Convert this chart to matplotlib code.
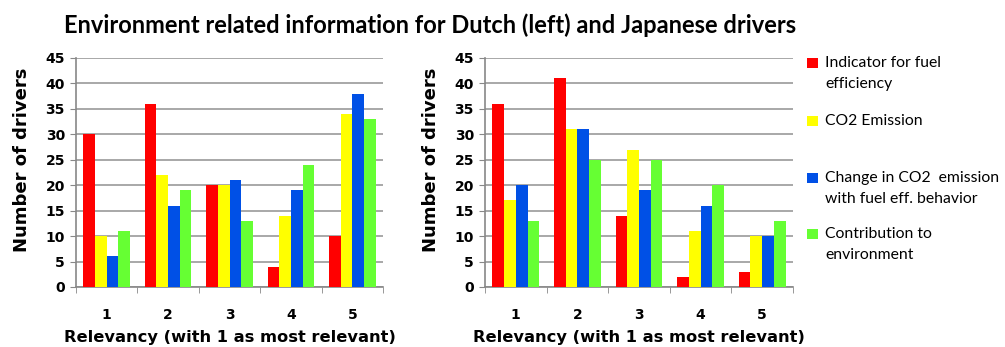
import matplotlib
matplotlib.use("Agg")
import matplotlib.pyplot as plt
import numpy as np
from matplotlib.patches import Rectangle

categories = ["1", "2", "3", "4", "5"]
series_names = ["Indicator for fuel\nefficiency", "CO2 Emission",
                "Change in CO2  emission\nwith fuel eff. behavior",
                "Contribution to\nenvironment"]
colors = ["#FF0000", "#FFFF00", "#0050E6", "#66FF33"]

dutch_fuel_indicator = [30, 36, 20, 4, 10]
dutch_co2_emission = [10, 22, 20, 14, 34]
dutch_co2_change = [6, 16, 21, 19, 38]
dutch_contribution = [11, 19, 13, 24, 33]

japan_fuel_indicator = [36, 41, 14, 2, 3]
japan_co2_emission = [17, 31, 27, 11, 10]
japan_co2_change = [20, 31, 19, 16, 10]
japan_contribution = [13, 25, 25, 20, 13]

yticks = [0, 5, 10, 15, 20, 25, 30, 35, 40, 45]

W, H = 1005, 347
fig = plt.figure(figsize=(W / 100, H / 100), dpi=100)

label_font = dict(family="DejaVu Sans", weight="bold")

def make_axes(rect, data):
    ax = fig.add_axes(rect)
    x = np.arange(len(categories))
    bw = 0.19
    for i, vals in enumerate(data):
        ax.bar(x - 1.5 * bw + i * bw, vals, width=bw, color=colors[i],
               edgecolor="none", zorder=3)
    ax.set_xlim(-0.5, len(categories) - 0.5)
    ax.set_ylim(0, 45)
    ax.set_yticks(yticks)
    ax.set_yticklabels([str(t) for t in yticks], fontsize=10, **label_font)
    ax.set_xticks(x)
    ax.set_xticklabels(categories, fontsize=10, **label_font)
    ax.set_xticks(np.arange(len(categories) + 1) - 0.5, minor=True)
    ax.tick_params(axis="x", which="major", length=0, pad=15)
    ax.tick_params(axis="x", which="minor", length=4, color="#888888", direction="out")
    ax.tick_params(axis="y", length=4, color="#888888", pad=4)
    ax.grid(axis="y", color="#999999", linewidth=1.2, zorder=0)
    for s in ["top", "right"]:
        ax.spines[s].set_visible(False)
    ax.spines["left"].set_color("#888888")
    ax.spines["bottom"].set_color("#888888")
    ax.spines["left"].set_linewidth(1.2)
    ax.spines["bottom"].set_linewidth(1.2)
    ax.set_ylabel("Number of drivers", fontsize=13, **label_font)
    ax.yaxis.set_label_coords(-0.145, 0.555)
    ax.set_xlabel("Relevancy (with 1 as most relevant)", fontsize=11.7, labelpad=6, **label_font)
    return ax

bottom = 1 - 287 / H
top = 1 - 58 / H
ax1 = make_axes([76 / W, bottom, (383 - 76) / W, top - bottom],
                [dutch_fuel_indicator, dutch_co2_emission, dutch_co2_change, dutch_contribution])
ax2 = make_axes([485 / W, bottom, (793 - 485) / W, top - bottom],
                [japan_fuel_indicator, japan_co2_emission, japan_co2_change, japan_contribution])

fig.text(430 / W, 1 - 25 / H,
         "Environment related information for Dutch (left) and Japanese drivers",
         ha="center", va="center", fontsize=17, fontweight="bold", family="Lato")

legend_y = [63, 121, 178, 234]
for i, name in enumerate(series_names):
    y = legend_y[i]
    fig.patches.append(Rectangle((807 / W, 1 - (y + 5) / H), 11 / W, 10 / H,
                                 transform=fig.transFigure, facecolor=colors[i],
                                 edgecolor="none"))
    fig.text(825 / W, 1 - (y - 7) / H, name, ha="left", va="top",
             fontsize=11.3, family="Lato", linespacing=1.6)

fig.savefig("out.png", dpi=100)
